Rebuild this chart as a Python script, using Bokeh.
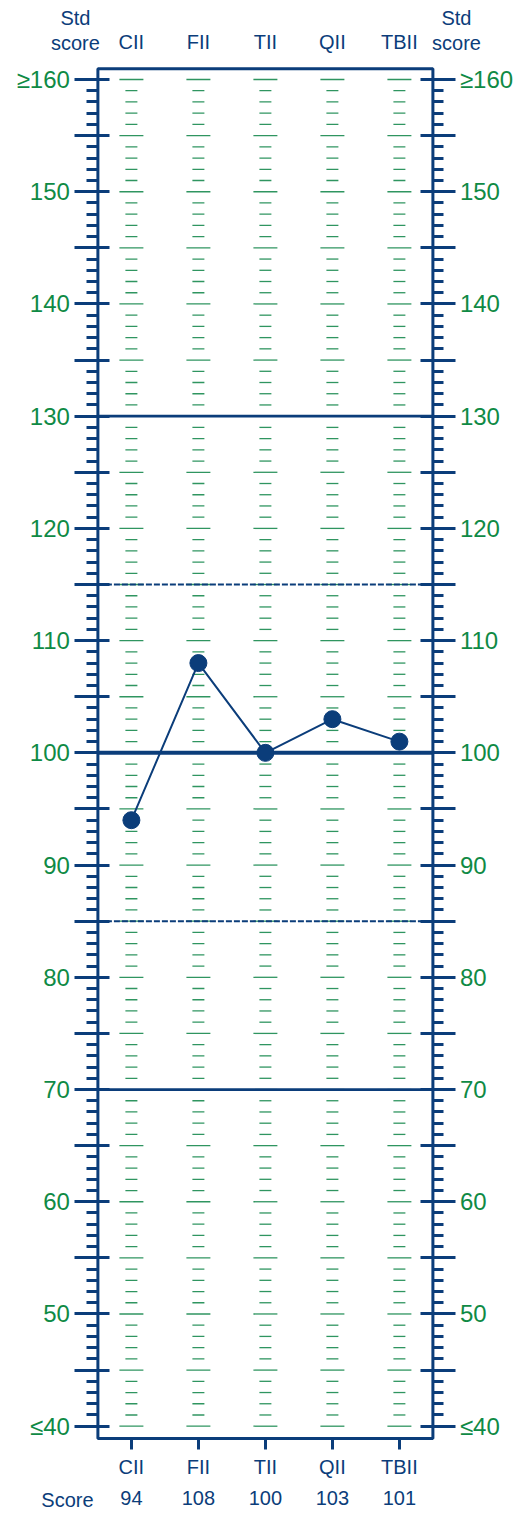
from bokeh.plotting import figure
from bokeh.models import Range1d, LinearAxis, FixedTicker
from bokeh.core.properties import value
from bokeh.embed import file_html
from bokeh.resources import INLINE

# ---- data ----
categories = ["CII", "FII", "TII", "QII", "TBII"]
scores = [94, 108, 100, 103, 101]
y_ticks = list(range(40, 161, 5))
y_minor = list(range(40, 161))
grid_values = list(range(40, 161))
y_labels = {v: (str(v) if v % 10 == 0 else "") for v in y_ticks}
y_labels[160] = "\u2265160"
y_labels[40] = "\u226440"
solid_lines = [130, 70]
mean_line = 100
dashed_lines = [115, 85]
header_words = ["Std", "score"]
score_title = "Score"

# ---- styles / geometry ----
BLUE = "#0b3d7a"
GREEN = "#0f8a45"
DASH_GREEN = "#2f9560"
FONT = "Liberation Sans"
W, H = 524, 1513
PX_X = 67.0            # px per category
PX_Y = 11.2225         # px per score unit
X0_PX = 264.9          # pixel of the middle category
Y160_PX = 79.0         # pixel of score 160

xs = list(range(len(categories)))
mid = (len(categories) - 1) / 2
x_start = mid - X0_PX / PX_X
x_end = x_start + W / PX_X
y_end = 160 + Y160_PX / PX_Y
y_start = y_end - H / PX_Y

x_lo, x_hi = -0.5, len(categories) - 0.5        # frame edges (data)
y_lo, y_hi = 38.9, 160.95


def dy(px):
    return px / PX_Y


p = figure(width=W, height=H,
           x_range=Range1d(x_start, x_end), y_range=Range1d(y_start, y_end),
           output_backend="svg", toolbar_location=None,
           x_axis_location=None, y_axis_location=None, min_border=0)
p.outline_line_color = None
p.grid.visible = False

# green scale dashes in every column
gx, gy, gs = [], [], []
for i in xs:
    for v in grid_values:
        gx.append(i)
        gy.append(v)
        gs.append(24 if v % 5 == 0 else 12)
p.scatter(gx, gy, marker="dash", size=gs, line_color=DASH_GREEN, line_width=1.3)

# reference lines
n = len(solid_lines)
p.segment(x0=[x_lo] * n, x1=[x_hi] * n, y0=solid_lines, y1=solid_lines,
          line_color=BLUE, line_width=2.8)
p.segment(x0=[x_lo], x1=[x_hi], y0=[mean_line], y1=[mean_line],
          line_color=BLUE, line_width=4)
n = len(dashed_lines)
p.segment(x0=[x_lo] * n, x1=[x_hi] * n, y0=dashed_lines, y1=dashed_lines,
          line_color=BLUE, line_width=2, line_dash="6 2")

# frame
p.quad(left=[x_lo], right=[x_hi], bottom=[y_lo], top=[y_hi],
       fill_color=None, line_color=BLUE, line_width=3)

# data
p.line(xs, scores, line_color=BLUE, line_width=2)
p.scatter(xs, scores, size=17, fill_color=BLUE, line_color=BLUE)


def y_axis(loc, standoff):
    return LinearAxis(
        fixed_location=loc,
        ticker=FixedTicker(ticks=y_ticks, minor_ticks=y_minor),
        major_label_overrides=y_labels,
        axis_line_color=None,
        major_tick_line_color=BLUE, major_tick_line_width=3,
        major_tick_out=23, major_tick_in=12,
        minor_tick_line_color=BLUE, minor_tick_line_width=3,
        minor_tick_out=11, minor_tick_in=0,
        major_label_text_font_size="24px",
        major_label_text_color=GREEN,
        major_label_text_font=FONT,
        major_label_standoff=standoff)


p.add_layout(y_axis(x_lo, 5), "left")
p.add_layout(y_axis(x_hi, 4), "right")

cat_labels = {i: c for i, c in enumerate(categories)}
score_labels = {i: str(s) for i, s in enumerate(scores)}


def x_axis(loc, labels, tick_out, standoff):
    return LinearAxis(
        fixed_location=loc,
        ticker=FixedTicker(ticks=xs, minor_ticks=[]),
        major_label_overrides=labels,
        axis_line_color=None,
        major_tick_line_color=BLUE if tick_out else None,
        major_tick_line_width=3,
        major_tick_out=tick_out, major_tick_in=0,
        minor_tick_line_color=None,
        major_label_text_font_size="20px",
        major_label_text_color=BLUE,
        major_label_text_font=FONT,
        major_label_standoff=standoff)


p.add_layout(x_axis(y_hi, cat_labels, 0, 16), "above")
p.add_layout(x_axis(y_lo, cat_labels, 11, 6), "below")
p.add_layout(x_axis(y_lo, score_labels, 0, 52), "below")


def txt(x, y, t):
    p.text(x=x, y=y, text=t, text_align="center", text_baseline="middle",
           text_font=value(FONT), text_font_size=value("20px"), text_color=BLUE)


for xpos in (x_lo - 0.335, x_hi + 0.352):
    txt([xpos], [y_end - dy(17.5)], [header_words[0]])
    txt([xpos], [y_end - dy(42)], [header_words[1]])
txt([x_lo - 0.454], [y_start + dy(1513 - 1499.5)], [score_title])

open("out.html", "w").write(file_html(p, INLINE))
